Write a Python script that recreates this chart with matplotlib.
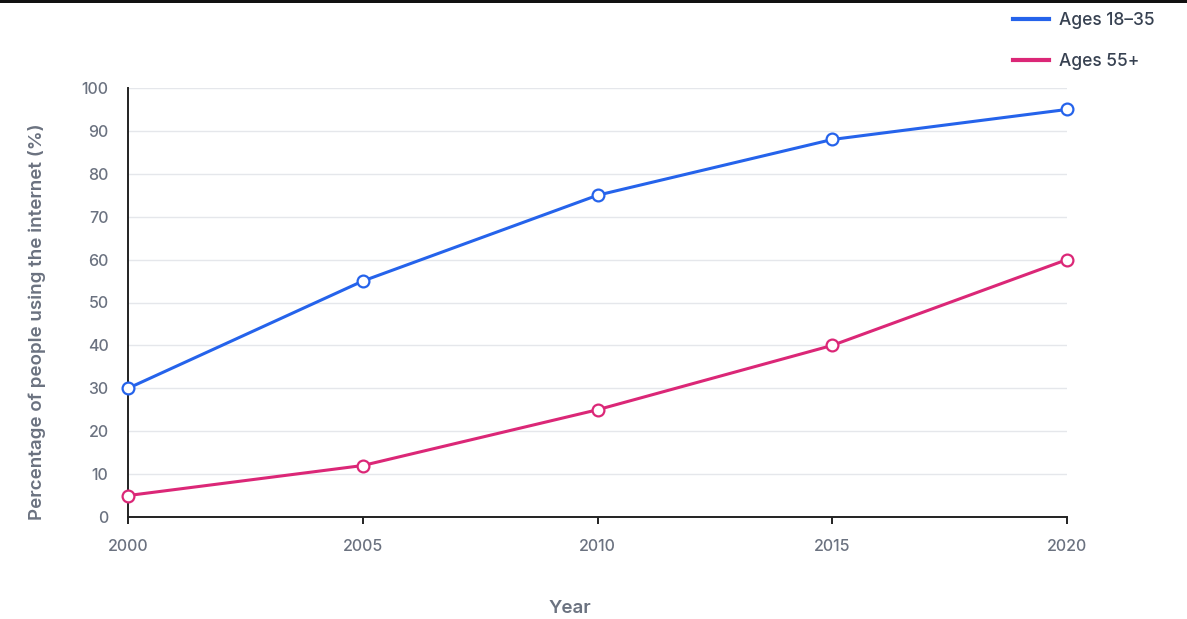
import matplotlib.pyplot as plt
from matplotlib.patches import Rectangle

# data
years = [2000, 2005, 2010, 2015, 2020]
young = [30, 55, 75, 88, 95]
older = [5, 12, 25, 40, 60]
labels = ["Ages 18\u201335", "Ages 55+"]
yticks = list(range(0, 101, 10))

plt.rcParams['font.family'] = ['Inter', 'DejaVu Sans']

fig = plt.figure(figsize=(11.87, 6.19), dpi=100)
ax = fig.add_axes([128/1187, 102/619, 939/1187, 429/619])

blue = '#2563eb'
pink = '#db2777'
for vals, c, lab in [(young, blue, labels[0]), (older, pink, labels[1])]:
    ax.plot(years, vals, color=c, lw=2.2, marker='o', ms=8.5,
            mfc='white', mec=c, mew=1.6, label=lab, clip_on=False, zorder=3)

ax.set_xlim(2000, 2020)
ax.set_ylim(0, 100)
ax.set_xticks(years)
ax.set_yticks(yticks)
ax.grid(axis='y', color='#e5e7eb', lw=1)
ax.set_axisbelow(True)
for s in ['top', 'right']:
    ax.spines[s].set_visible(False)
for s in ['left', 'bottom']:
    ax.spines[s].set_color('#222222')
    ax.spines[s].set_linewidth(1.4)
ax.tick_params(axis='x', length=5, width=1.4, color='#222222', pad=11,
               labelsize=11.5, labelcolor='#6b7280')
ax.tick_params(axis='y', length=0, pad=14, labelsize=11.5, labelcolor='#6b7280')
for t in ax.get_xticklabels() + ax.get_yticklabels():
    t.set_fontweight('medium')

ax.set_xlabel('Year', fontsize=13.5, color='#6b7280', fontweight='semibold')
ax.xaxis.set_label_coords(0.4707, -0.194)
ax.set_ylabel('Percentage of people using the internet (%)', fontsize=13.5,
              color='#6b7280', fontweight='semibold')
ax.yaxis.set_label_coords(-0.087, 0.455)

leg = fig.legend(loc='upper left', bbox_to_anchor=(997/1187, 1 + 4/619),
                 frameon=False, fontsize=12.5, handlelength=2.1, handletextpad=0.6,
                 labelspacing=1.42, markerscale=0)
for t in leg.get_texts():
    t.set_color('#374151')
    t.set_fontweight('medium')
for h in leg.get_lines():
    h.set_marker('')
    h.set_linewidth(3)

fig.add_artist(Rectangle((0, 1 - 3/619), 1, 3/619, transform=fig.transFigure,
                         color='#111111', lw=0))

fig.savefig('out.png', dpi=100)
